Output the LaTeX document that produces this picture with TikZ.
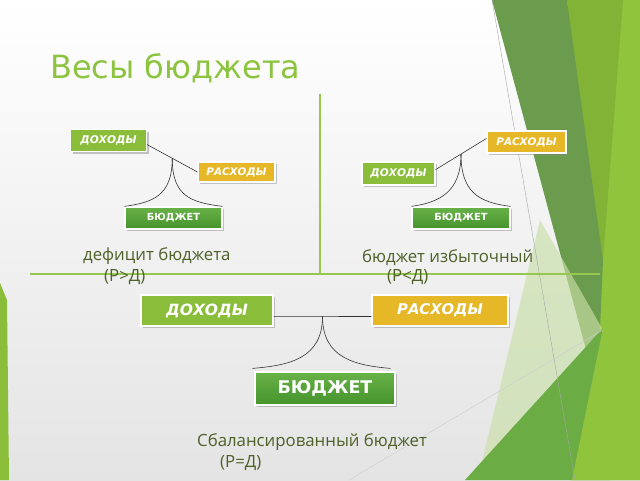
\documentclass[tikz,border=0pt]{standalone}
\usepackage{fontspec}
\setmainfont{DejaVu Sans}
\newfontfamily\bodyfont{Open Sans}
\usetikzlibrary{calc,shadows}
\definecolor{titlegreen}{RGB}{141,196,63}
\definecolor{incgreen}{RGB}{138,190,58}
\definecolor{expyellow}{RGB}{230,183,38}
\definecolor{budtop}{RGB}{104,178,72}
\definecolor{budbot}{RGB}{70,146,44}
\definecolor{bodytext}{RGB}{78,96,40}
\definecolor{sepgreen}{RGB}{150,200,80}
\definecolor{facetdark}{RGB}{107,155,76}
\definecolor{facetmid}{RGB}{130,179,54}
\definecolor{facetbright}{RGB}{143,196,60}
\definecolor{facetmed}{RGB}{108,172,69}
\definecolor{facetpale}{RGB}{201,224,168}
\definecolor{bgbottom}{RGB}{228,228,228}
\begin{document}
\begin{tikzpicture}[x=1pt,y=-1pt,
  box/.style={draw=white, line width=1.2pt, inner sep=0pt, text=white,
    drop shadow={shadow xshift=2pt,shadow yshift=-2pt,opacity=0.45}},
  inc/.style={box, fill=incgreen, font=\bfseries\itshape},
  exp/.style={box, fill=expyellow, font=\bfseries\itshape},
  bud/.style={box, top color=budtop, bottom color=budbot, font=\bfseries},
  beam/.style={draw=black!80, line width=0.6pt},
  bodytxt/.style={text=bodytext, anchor=base west, inner sep=0pt, font=\bodyfont\fontsize{16.8}{20}\selectfont},
  sep/.style={draw=sepgreen, line width=1.4pt}
]
\useasboundingbox (0,0) rectangle (640,480);
% background
\shade[top color=white, bottom color=bgbottom] (0,0) rectangle (640,480);
% facet decoration
\fill[facetbright] (567,0) -- (640,0) -- (640,480) -- (570,480) -- (600,330) -- cycle;
\fill[facetmid] (567,0) -- (623,0) -- (603,260) -- cycle;
\fill[facetdark] (492,0) -- (567,0) -- (603,260) -- (600,330) -- (592,372) -- cycle;
\fill[facetpale, opacity=0.65] (540,220) -- (603,330) -- (480,470) -- cycle;
\fill[facetmed] (465,480) -- (603,328) -- (610,480) -- cycle;
\fill[facetbright] (603,328) -- (640,300) -- (640,480) -- (572,480) -- cycle;
\draw[black!35, line width=0.4pt] (492,0) -- (575,480);
\draw[black!20, line width=0.4pt] (349,480) -- (603,330);
\fill[incgreen] (0,283) -- (7,300) -- (9,480) -- (0,480) -- cycle;
% separators
\draw[sep] (30,274) -- (600,274);
\draw[sep] (320,94) -- (320,274);
% title
\node[anchor=base west, inner sep=0pt, text=titlegreen, font=\fontsize{32}{38}\selectfont] (title) at (50,78) {Весы бюджета};

% ---- left: deficit
\node[inc, minimum width=76pt, minimum height=22pt, font=\bfseries\itshape\fontsize{10.6}{12}\selectfont] (d1) at (108.5,140.5) {ДОХОДЫ};
\node[exp, minimum width=77pt, minimum height=20pt, font=\bfseries\itshape\fontsize{10.4}{12}\selectfont] (r1) at (236.5,172) {РАСХОДЫ};
\node[bud, minimum width=97pt, minimum height=22pt, font=\bfseries\fontsize{9.8}{12}\selectfont] (b1) at (173.5,218) {БЮДЖЕТ};
\coordinate (p1) at ($(d1.-6)!0.5!(r1.west)$);
\draw[beam] (d1.-6) -- (r1.west);
\draw[beam] (p1) .. controls ($(p1)+(0,38)$) and ($(b1.north west)+(28,-4)$) .. (b1.north west);
\draw[beam] (p1) .. controls ($(p1)+(0,38)$) and ($(b1.north east)+(-32,-4)$) .. (b1.north east);
\node[bodytxt] (t1) at (83,260) {дефицит бюджета};
\node[bodytxt] (t1b) at (104,281) {(Р>Д)};

% ---- right: surplus
\node[exp, minimum width=79pt, minimum height=22pt, font=\bfseries\itshape\fontsize{10.4}{12}\selectfont] (r2) at (526.5,142) {РАСХОДЫ};
\node[inc, minimum width=73pt, minimum height=23pt, font=\bfseries\itshape\fontsize{10.6}{12}\selectfont] (d2) at (398.5,173.5) {ДОХОДЫ};
\node[bud, minimum width=98pt, minimum height=22pt, font=\bfseries\fontsize{9.8}{12}\selectfont] (b2) at (461,218) {БЮДЖЕТ};
\coordinate (p2) at ($(d2.6)!0.5!(r2.175)$);
\draw[beam] (d2.6) -- (r2.175);
\draw[beam] (p2) .. controls ($(p2)+(0,38)$) and ($(b2.north west)+(28,-4)$) .. (b2.north west);
\draw[beam] (p2) .. controls ($(p2)+(0,38)$) and ($(b2.north east)+(-32,-4)$) .. (b2.north east);
\node[bodytxt] (t2) at (362,262) {бюджет избыточный};
\node[bodytxt] (t2b) at (387,281) {(Р<Д)};

% ---- bottom: balanced
\node[inc, minimum width=132pt, minimum height=31pt, font=\bfseries\itshape\fontsize{15.5}{18}\selectfont] (d3) at (207,310.5) {ДОХОДЫ};
\node[exp, minimum width=136pt, minimum height=31pt, font=\bfseries\itshape\fontsize{14.8}{18}\selectfont] (r3) at (440,310.5) {РАСХОДЫ};
\node[bud, minimum width=140pt, minimum height=33pt, font=\bfseries\fontsize{17.5}{20}\selectfont] (b3) at (325,388.5) {БЮДЖЕТ};
\coordinate (p3) at ($(d3.-5)!0.5!(r3.185)$);
\draw[beam] (d3.-5) -- (r3.185);
\draw[beam] (p3) .. controls ($(p3)+(0,42)$) and ($(b3.north west)+(35,-6)$) .. ($(b3.north west)+(-2,-3)$);
\draw[beam] (p3) .. controls ($(p3)+(0,42)$) and ($(b3.north east)+(-40,-6)$) .. ($(b3.north east)+(-5,-3)$);
\node[bodytxt] (t3) at (197,446) {Сбалансированный бюджет};
\node[bodytxt] (t3b) at (220,467) {(Р=Д)};
\end{tikzpicture}
\end{document}
